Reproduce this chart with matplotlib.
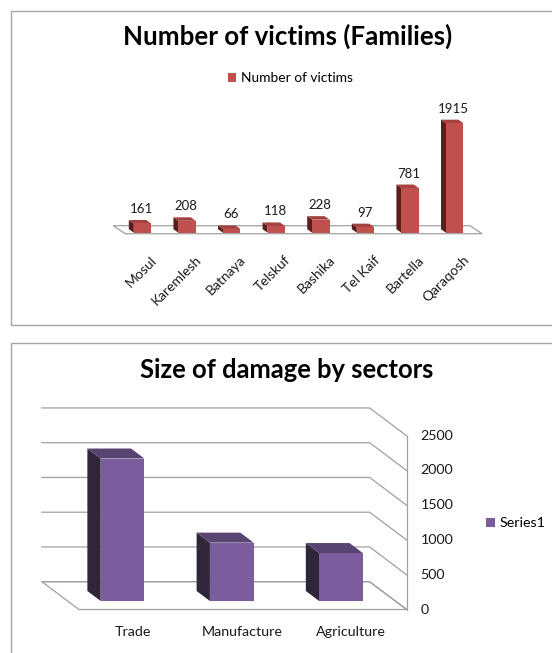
import matplotlib
matplotlib.use("Agg")
import matplotlib.pyplot as plt
from matplotlib.patches import Polygon, Rectangle, Patch

plt.rcParams['font.family'] = ['Lato', 'DejaVu Sans']

# data
towns = ["Mosul", "Karemlesh", "Batnaya", "Telskuf", "Bashika", "Tel Kaif", "Bartella", "Qaraqosh"]
victims = [161, 208, 66, 118, 228, 97, 781, 1915]
sectors = ["Trade", "Manufacture", "Agriculture"]
damage = [2050, 840, 690]
damage_ticks = [0, 500, 1000, 1500, 2000, 2500]

W, H = 552, 653
fig = plt.figure(figsize=(W / 100, H / 100), dpi=100)

RED = ("#C0504D", "#5A1F1D", "#A5413E")      # front, side, top
PURPLE = ("#7B5C9C", "#2F2639", "#574470")
GRID = "#a0a0a0"
TXT = "#1a1a1a"


def axes_px(left, top, right, bottom):
    ax = fig.add_axes([left / W, 1 - bottom / H, (right - left) / W, (bottom - top) / H])
    ax.axis("off")
    return ax


def px_off(ax, dx, dy):
    # pixel shift (right, down) -> data shift
    x0, x1 = ax.get_xlim()
    y0, y1 = ax.get_ylim()
    bb = ax.get_position()
    sx = bb.width * W / (x1 - x0)
    sy = bb.height * H / (y1 - y0)
    return dx / sx, -dy / sy


def bar3d(ax, xc, v, width, depth, colors):
    front, side, top = colors
    ddx, ddy = depth
    x0, x1 = xc - width / 2, xc + width / 2
    ax.add_patch(Polygon([(x0, 0), (x0, v), (x0 + ddx, v + ddy), (x0 + ddx, ddy)],
                         closed=True, fc=side, ec="none", zorder=3, clip_on=False))
    ax.add_patch(Polygon([(x0, v), (x1, v), (x1 + ddx, v + ddy), (x0 + ddx, v + ddy)],
                         closed=True, fc=top, ec="none", zorder=3, clip_on=False))
    ax.bar(xc, v, width, color=front, zorder=4, clip_on=False)


def fit_width(t, target):
    r = fig.canvas.get_renderer()
    w = t.get_window_extent(r).width
    t.set_fontsize(t.get_fontsize() * target / w)


def frame(top, bottom):
    fig.add_artist(Rectangle((10.7 / W, 1 - bottom / H), 1.0, (bottom - top) / H,
                             transform=fig.transFigure, fill=False, ec="#a6a6a6", lw=1.0))


# ---------------- top chart: victims ----------------
frame(10.7, 325)
t1 = fig.text(287.5 / W, 1 - 45 / H, "Number of victims (Families)", ha="center",
              va="baseline", fontsize=17, fontweight="bold", color="black")

ax1 = axes_px(120.2, 118.3, 477.0, 232.7)
ax1.set_xlim(-0.5, len(towns) - 0.5)
ax1.set_ylim(0, 2000)

depth1 = px_off(ax1, -5, -3.5)
fdx, fdy = px_off(ax1, 5, 1)
bdx, bdy = px_off(ax1, -7, -7)
xl, xr = -0.5, len(towns) - 0.5
ax1.add_patch(Polygon([(xl + bdx, bdy), (xr + bdx, bdy), (xr + fdx, fdy), (xl + fdx, fdy)],
                      closed=True, fc="white", ec=GRID, lw=0.9, zorder=1, clip_on=False))

for i, (name, v) in enumerate(zip(towns, victims)):
    bar3d(ax1, i, v, 0.39, depth1, RED)
    ax1.annotate(str(v), (i, v), xytext=(-1, 10.5), textcoords="offset pixels",
                 ha="center", va="baseline", fontsize=9.5, color=TXT,
                 annotation_clip=False)
    ax1.annotate(name, (i, 0), xytext=(8, -21), textcoords="offset pixels",
                 ha="right", va="top", rotation=45, rotation_mode="anchor",
                 fontsize=10, color=TXT, annotation_clip=False)

ax1.legend(handles=[Patch(fc=RED[0])], labels=["Number of victims"], loc="center",
           bbox_to_anchor=(290 / W, 1 - 78 / H), bbox_transform=fig.transFigure,
           frameon=False, fontsize=9.9, handlelength=0.65, handleheight=0.65,
           handletextpad=0.3, borderpad=0, borderaxespad=0)

# ---------------- bottom chart: damage ----------------
frame(342.7, 700)
t2 = fig.text(287 / W, 1 - 378.3 / H, "Size of damage by sectors", ha="center",
              va="baseline", fontsize=17, fontweight="bold", color="black")

ax2 = axes_px(67.9, 427.25, 395.6, 601.0)
ax2.set_xlim(-0.5, len(sectors) - 0.5)
ax2.set_ylim(0, 2500)

depth2 = px_off(ax2, -13.3, -10)
fdx, fdy = px_off(ax2, 11, 8.5)
bdx, bdy = px_off(ax2, -26, -19.3)
xl, xr = -0.5, len(sectors) - 0.5

# floor
ax2.add_patch(Polygon([(xl + bdx, bdy), (xr + bdx, bdy), (xr + fdx, fdy), (xl + fdx, fdy)],
                      closed=True, fc="white", ec=GRID, lw=0.9, zorder=1, clip_on=False))
# back wall + side wall gridlines, value axis on the front right edge
for v in damage_ticks:
    ax2.plot([xl + bdx, xr + bdx, xr + fdx], [v + bdy, v + bdy, v + fdy],
             color=GRID, lw=0.9, zorder=2, clip_on=False)
    ax2.annotate(str(v), (xr + fdx, v + fdy), xytext=(14, 0), textcoords="offset pixels",
                 ha="left", va="center", fontsize=10.3, color=TXT, annotation_clip=False)
ax2.plot([xr + fdx, xr + fdx], [fdy, damage_ticks[-1] + fdy], color=GRID, lw=0.9,
         zorder=2, clip_on=False)

for i, (name, v) in enumerate(zip(sectors, damage)):
    bar3d(ax2, i, v, 0.40, depth2, PURPLE)
    ax2.annotate(name, (i, 0), xytext=(10, -31), textcoords="offset pixels",
                 ha="center", va="center", fontsize=10.3, color=TXT,
                 annotation_clip=False)

ax2.legend(handles=[Patch(fc=PURPLE[0])], labels=["Series1"], loc="center",
           bbox_to_anchor=(515.5 / W, 1 - 523.3 / H), bbox_transform=fig.transFigure,
           frameon=False, fontsize=10.3, handlelength=0.65, handleheight=0.65,
           handletextpad=0.3, borderpad=0, borderaxespad=0)

fit_width(t1, 328)
fit_width(t2, 294)

fig.savefig("out.png", dpi=100, facecolor="white")
